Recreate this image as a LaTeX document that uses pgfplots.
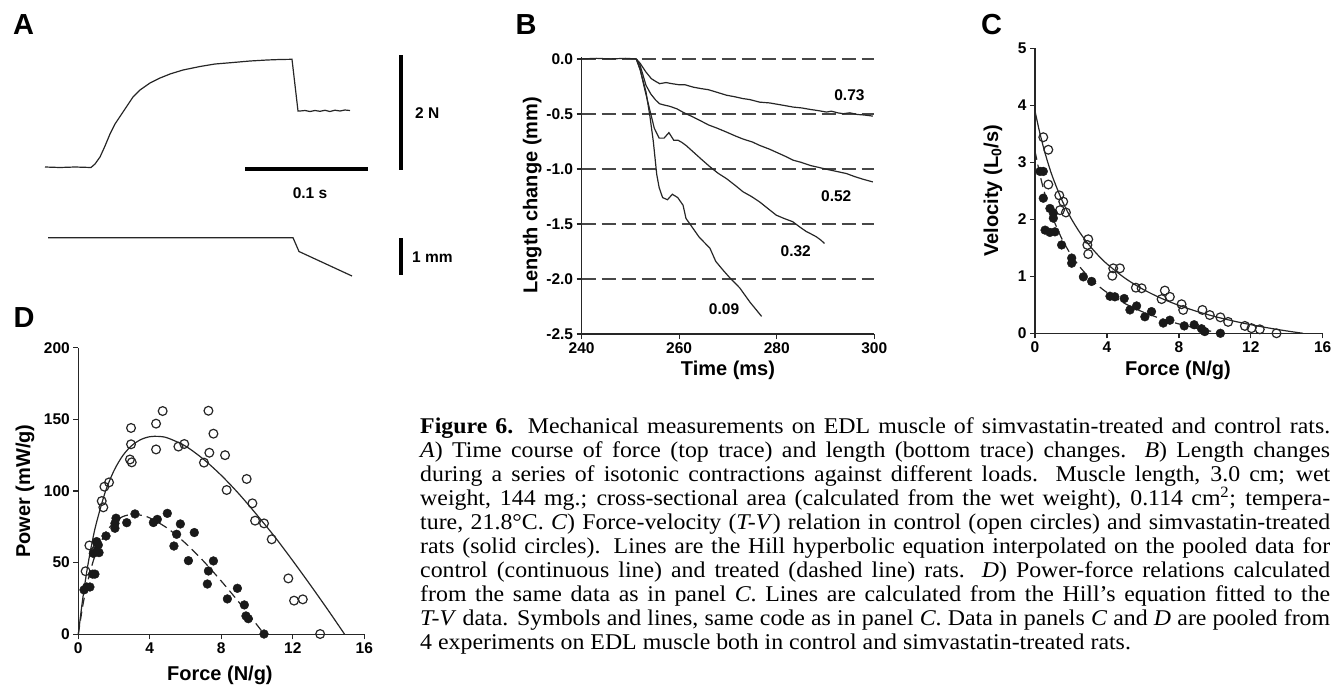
\documentclass[border=0pt]{standalone}
\usepackage{fontspec}
\setmainfont{Liberation Serif}[FakeStretch=1.06]
\setsansfont{Liberation Sans}
\usepackage{pgfplots}
\pgfplotsset{compat=1.18}

\newcommand{\tfont}{\fontsize{15.5}{17}\selectfont\sffamily\bfseries}
\newcommand{\lfont}{\fontsize{20}{22}\selectfont\sffamily\bfseries}
\newcommand{\pfont}{\fontsize{29}{30}\selectfont\sffamily\bfseries}

\pgfplotsset{
  panel/.style={
    scale only axis, axis lines*=left, clip=false,
    tick align=outside, major tick length=5pt,
    axis line style={black!85, line width=1.5pt},
    tick style={black!85, line width=1.3pt},
    tick label style={font=\tfont},
    label style={font=\lfont},
    /pgf/number format/assume math mode=true,
  },
  trace/.style={black!85, line width=1.2pt, no marks},
  grey dash/.style={black!72, line width=2.2pt, dash pattern=on 14pt off 6pt, no marks},
  open/.style={only marks, mark=o, mark size=4.4pt, mark options={black!85, line width=1.2pt}},
  solid dot/.style={only marks, mark=*, mark size=4.4pt, mark options={draw=black!90, fill=black!90}},
}

\begin{document}
\begin{tikzpicture}
\useasboundingbox (0,0) rectangle (1340pt,686pt);

% canvas in pixel units: panel A, panel letters, caption
\begin{axis}[
  at={(0pt,0pt)}, anchor=south west, scale only axis,
  width=1340pt, height=686pt, xmin=0, xmax=1340, ymin=0, ymax=686,
  y dir=reverse, hide axis, clip=false]
  % force trace
  \addplot[trace] coordinates {
    (45,167) (60,167.5) (75,167) (91,167.5) (95,164) (100,157) (105,146)
    (110,134) (115,124) (120,116.5) (127,106) (133,97) (140,90) (150,83)
    (160,78) (170,74) (183,70) (200,66.5) (215,64) (233,62.5) (250,61)
    (267,60) (280,59.5) (292,59.3) (298,111) (300,111) (305,110.5)
    (310,111.5) (315,110.5) (320,111.3) (325,110.3) (330,111.5)
    (335,110.2) (340,111) (345,110) (350,110.5)};
  % length trace
  \addplot[trace] coordinates {(48,237.7) (293,237.7) (299,251.5) (352,276)};
  % scale bars
  \addplot[black, line width=4pt, no marks] coordinates {(245,169.3) (368.3,169.3)};
  \addplot[black, line width=4.5pt, no marks] coordinates {(401,55) (401,170)};
  \addplot[black, line width=4.5pt, no marks] coordinates {(401,238.3) (401,275)};
  \node[font=\tfont] at (310,192.7) {0.1 s};
  \node[font=\tfont, anchor=west, inner sep=0] at (415,113) {2 N};
  \node[font=\tfont, anchor=west, inner sep=0] at (412,257) {1 mm};
  % panel letters
  \node[font=\pfont] at (23.5,25) {A};
  \node[font=\pfont] at (526,25) {B};
  \node[font=\pfont] at (991.7,25) {C};
  \node[font=\pfont] at (24,318) {D};
  % caption
  \node[anchor=base west, inner sep=0] at (420,433) {\parbox[t]{910pt}{%
    \fontsize{22.5}{24}\selectfont\hyphenpenalty=10000\tolerance=9999
    \textbf{Figure 6.} Mechanical measurements on EDL muscle of simvastatin-treated and control rats.\linebreak
    \textit{A}) Time course of force (top trace) and length (bottom trace) changes. \textit{B}) Length changes\linebreak
    during a series of isotonic contractions against different loads. Muscle length, 3.0 cm; wet\linebreak
    weight, 144 mg.; cross-sectional area (calculated from the wet weight), 0.114 cm\textsuperscript{2}; tempera-\linebreak
    ture, 21.8°C. \textit{C}) Force-velocity (\textit{T-V}) relation in control (open circles) and simvastatin-treated\linebreak
    rats (solid circles). Lines are the Hill hyperbolic equation interpolated on the pooled data for\linebreak
    control (continuous line) and treated (dashed line) rats. \textit{D}) Power-force relations calculated\linebreak
    from the same data as in panel \textit{C}. Lines are calculated from the Hill’s equation fitted to the\linebreak
    \textit{T-V} data. Symbols and lines, same code as in panel \textit{C}. Data in panels \textit{C} and \textit{D} are pooled from\linebreak
    4 experiments on EDL muscle both in control and simvastatin-treated rats.}};
\end{axis}

% B: isotonic shortening
\begin{axis}[panel,
  at={(581.6pt,352pt)}, anchor=south west, width=292.7pt, height=277.3pt,
  xmin=240, xmax=300, ymin=-2.5, ymax=0.02,
  xtick={240,260,280,300},
  ytick={0,-0.5,-1,-1.5,-2,-2.5},
  yticklabels={0.0,-0.5,-1.0,-1.5,-2.0,-2.5},
  xlabel={Time (ms)}, ylabel={Length change (mm)},
  xlabel style={at={(axis description cs:0.5,-0.13)}, anchor=center},
  ylabel style={at={(axis description cs:-0.169,0.5)}, anchor=center},
]
  \addplot[grey dash] coordinates {(240,0) (300,0)};
  \addplot[grey dash] coordinates {(240,-0.5) (300,-0.5)};
  \addplot[grey dash] coordinates {(240,-1) (300,-1)};
  \addplot[grey dash] coordinates {(240,-1.5) (300,-1.5)};
  \addplot[grey dash] coordinates {(240,-2) (300,-2)};
  % load 0.73
  \addplot[trace] coordinates {
    (240,0) (243,0.005) (246,0) (249,0.005) (251.2,0) (252,-0.04) (253.2,-0.12)
    (254.3,-0.18) (255.2,-0.205) (256,-0.225) (257.3,-0.215) (258.5,-0.225)
    (260,-0.235) (261.2,-0.235) (262.9,-0.257) (264.5,-0.27) (266,-0.28)
    (267.5,-0.30) (269.7,-0.33) (271.5,-0.345) (273,-0.36) (274.5,-0.37)
    (276.5,-0.393) (278.5,-0.40) (280.5,-0.415) (283.4,-0.438) (285,-0.445)
    (287,-0.46) (288.5,-0.47) (290.2,-0.483) (291.2,-0.475) (292.5,-0.49)
    (293.6,-0.498) (295,-0.49) (296.5,-0.505) (298,-0.51) (299.7,-0.52)};
  % load 0.52
  \addplot[trace] coordinates {
    (251.2,0) (252,-0.06) (253.2,-0.24) (254.2,-0.32) (255.2,-0.375) (256,-0.408)
    (257,-0.42) (258,-0.43) (259.5,-0.453) (261,-0.49) (262.9,-0.529)
    (264.5,-0.565) (266,-0.60) (267.8,-0.63) (269.7,-0.665) (271.5,-0.70)
    (273.2,-0.73) (275,-0.755) (276.5,-0.786) (278.5,-0.82) (280.5,-0.86)
    (282,-0.89) (283.4,-0.921) (285,-0.94) (287,-0.97) (288.5,-0.985)
    (290.2,-1.003) (292,-1.02) (294.3,-1.042) (296,-1.07) (297.8,-1.095)
    (299.7,-1.118)};
  % load 0.32
  \addplot[trace] coordinates {
    (251.2,0) (252,-0.09) (252.8,-0.25) (253.9,-0.45) (254.9,-0.63) (255.9,-0.72)
    (256.9,-0.72) (257.9,-0.67) (258.9,-0.74) (259.8,-0.74) (260.6,-0.76)
    (261.5,-0.79) (262.9,-0.846) (264.5,-0.91) (266.3,-0.98) (268,-1.04)
    (269.7,-1.088) (271.5,-1.15) (273.1,-1.208) (274.8,-1.25) (276.5,-1.30)
    (278.2,-1.36) (279.9,-1.42) (281.5,-1.45) (283.3,-1.48) (284.8,-1.53)
    (286.1,-1.57) (287,-1.59) (288.1,-1.616) (289,-1.645) (289.8,-1.677)};
  % load 0.09
  \addplot[trace] coordinates {
    (251.2,0) (252,-0.10) (253.2,-0.30) (254,-0.52) (254.7,-0.75) (255.4,-1.05)
    (255.9,-1.17) (256.6,-1.26) (257.6,-1.28) (258.6,-1.23) (259.7,-1.26)
    (260.8,-1.33) (261.4,-1.45) (262.2,-1.50) (264.1,-1.62) (266.3,-1.72)
    (267.5,-1.84) (269,-1.92) (270.4,-1.99) (272.4,-2.08) (274.5,-2.21)
    (276.9,-2.34)};
  \node[font=\tfont] at (axis cs:294.9,-0.33) {0.73};
  \node[font=\tfont] at (axis cs:292.2,-1.25) {0.52};
  \node[font=\tfont] at (axis cs:283.9,-1.745) {0.32};
  \node[font=\tfont] at (axis cs:269.2,-2.27) {0.09};
\end{axis}

% C: force-velocity
\begin{axis}[panel,
  at={(1035pt,352.7pt)}, anchor=south west, width=287.7pt, height=285pt,
  xmin=0, xmax=16, ymin=0, ymax=5,
  xtick={0,4,8,12,16}, ytick={0,1,2,3,4,5},
  xlabel={Force (N/g)}, ylabel={Velocity (L\textsubscript{0}/s)},
  xlabel style={at={(axis description cs:0.497,-0.129)}, anchor=center},
  ylabel style={at={(axis description cs:-0.146,0.5)}, anchor=center},
]
  \addplot[trace, smooth] coordinates {
    (0,3.90) (0.25,3.538) (0.5,3.228) (0.75,2.959) (1,2.724) (1.5,2.333)
    (2,2.020) (2.5,1.765) (3,1.552) (3.5,1.372) (4,1.218) (5,0.968)
    (6,0.773) (7,0.617) (8,0.490) (9,0.384) (10,0.294) (11,0.218)
    (12,0.151) (13,0.0927) (14,0.0413) (14.9,0)};
  \addplot[trace, smooth, dash pattern=on 9pt off 5pt] coordinates {
    (0,3.20) (0.25,2.816) (0.5,2.500) (0.75,2.236) (1,2.013) (1.5,1.654)
    (2,1.379) (2.5,1.162) (3,0.985) (3.5,0.839) (4,0.717) (5,0.522)
    (6,0.374) (7,0.258) (8,0.164) (9,0.087) (10,0.023) (10.4,0)};
  \addplot[open] coordinates {
    (0.46,3.44) (0.74,3.22) (0.74,2.61) (1.35,2.42) (1.57,2.31) (1.39,2.16)
    (1.72,2.12) (2.96,1.65) (2.91,1.55) (2.96,1.39) (4.35,1.14) (4.72,1.14)
    (4.30,1.01) (5.61,0.80) (5.93,0.79) (7.22,0.75) (7.04,0.60) (7.50,0.64)
    (8.15,0.51) (8.24,0.41) (9.31,0.41) (9.72,0.32) (10.31,0.28) (10.74,0.20)
    (11.67,0.13) (12.04,0.09) (12.50,0.07) (13.43,0.0)};
  \addplot[solid dot] coordinates {
    (0.28,2.84) (0.46,2.84) (0.46,2.37) (0.83,2.19) (1.02,2.11) (1.02,2.02)
    (0.56,1.81) (0.83,1.77) (1.11,1.78) (1.48,1.55) (2.04,1.32) (2.04,1.23)
    (2.69,0.99) (3.15,0.91) (4.17,0.65) (4.44,0.64) (4.96,0.61) (5.28,0.41)
    (5.65,0.48) (6.11,0.29) (6.48,0.38) (7.13,0.18) (7.50,0.23) (8.30,0.13)
    (8.85,0.15) (9.26,0.08) (9.44,0.03) (10.31,0.0)};
\end{axis}

% D: power-force
\begin{axis}[panel,
  at={(78.3pt,51.7pt)}, anchor=south west, width=286pt, height=286.6pt,
  xmin=0, xmax=16, ymin=0, ymax=200,
  xtick={0,4,8,12,16}, ytick={0,50,100,150,200},
  xlabel={Force (N/g)}, ylabel={Power (mW/g)},
  xlabel style={at={(axis description cs:0.495,-0.142)}, anchor=center},
  ylabel style={at={(axis description cs:-0.186,0.5)}, anchor=center},
]
  \addplot[trace, smooth] coordinates {
    (0,0) (0.25,25.0) (0.5,45.7) (0.75,62.8) (1,77.1) (1.5,99.0) (2,114.3)
    (2.5,124.9) (3,131.8) (3.5,135.9) (4,137.9) (4.5,138.1) (5,137.0)
    (6,131.3) (7,122.2) (8,110.9) (9,97.8) (10,83.2) (11,67.9) (12,51.3)
    (13,34.1) (14,16.4) (14.9,0)};
  \addplot[trace, smooth, dash pattern=on 9pt off 5pt] coordinates {
    (0,0) (0.25,19.9) (0.5,35.4) (0.75,47.5) (1,57.0) (1.5,70.2) (2,78.1)
    (2.5,82.2) (3,83.6) (3.5,83.1) (4,81.2) (5,73.9) (6,63.5) (7,51.1)
    (8,37.1) (9,22.2) (10,6.5) (10.4,0)};
  \addplot[open] coordinates {
    (0.41,44) (0.62,62) (0.90,57.7) (1.31,93) (1.40,88.6) (1.46,103) (1.72,106)
    (2.95,144) (2.95,132.6) (2.89,122) (2.99,120) (4.35,147) (4.72,155.8)
    (4.35,129) (5.60,131) (5.93,132.8) (7.28,156) (7.56,140) (7.33,126.7)
    (7.03,119.8) (8.21,125) (8.30,100.7) (9.42,108.4) (9.74,91.4) (9.89,79.3)
    (10.39,77.4) (10.82,66.3) (11.75,39) (12.07,23.5) (12.56,24.4) (13.53,0.2)};
  \addplot[solid dot] coordinates {
    (0.32,31) (0.47,33) (0.65,33) (0.80,42) (0.93,42) (0.84,56.5) (1.03,57.7)
    (1.12,62.3) (1.03,64.7) (1.16,57) (1.55,68.6) (2.05,77.4) (2.11,81)
    (2.05,74) (2.71,77.9) (3.17,84) (4.20,78) (4.42,80.2) (4.98,84.4)
    (5.50,69.8) (5.35,61.6) (5.71,77) (6.49,71) (6.16,51.4) (7.28,44.2)
    (7.56,51.2) (7.22,35.1) (8.34,24.7) (8.90,32.1) (9.29,20.5) (9.38,12.8)
    (9.51,10.9) (10.39,0.2)};
\end{axis}
\end{tikzpicture}
\end{document}
